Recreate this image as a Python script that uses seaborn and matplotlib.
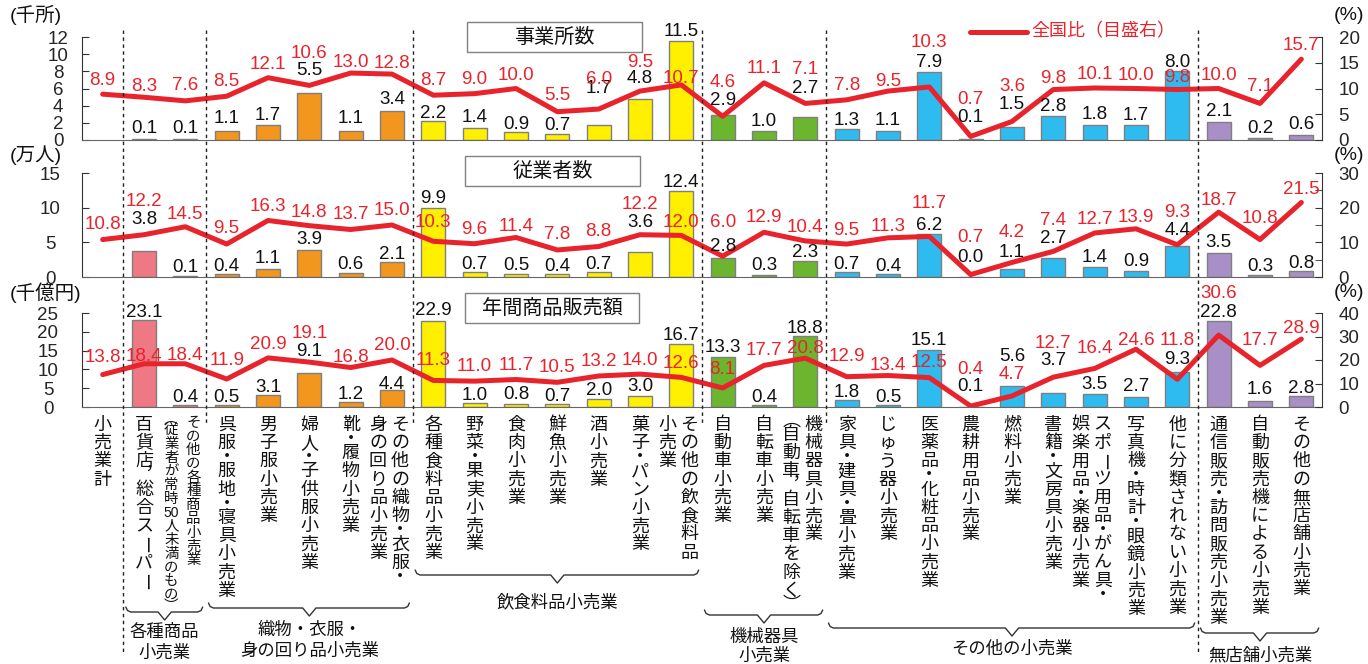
import numpy as np
import pandas as pd
import seaborn as sns
import matplotlib.pyplot as plt
from matplotlib.lines import Line2D
from matplotlib.patches import Rectangle
from matplotlib.transforms import blended_transform_factory

# ------------------------------------------------------------
# data
# ------------------------------------------------------------
# "|" splits a vertical label into two columns (right column first)
categories = [
    "小売業計", "百貨店，総合スーパー",
    "その他の各種商品小売業|（従業者が常時50人未満のもの）",
    "呉服・服地・寝具小売業", "男子服小売業", "婦人・子供服小売業", "靴・履物小売業",
    "その他の織物・衣服・|身の回り品小売業",
    "各種食料品小売業", "野菜・果実小売業", "食肉小売業", "鮮魚小売業", "酒小売業",
    "菓子・パン小売業", "その他の飲食料品|小売業",
    "自動車小売業", "自転車小売業", "機械器具小売業|（自動車，自転車を除く）",
    "家具・建具・畳小売業", "じゅう器小売業", "医薬品・化粧品小売業", "農耕用品小売業",
    "燃料小売業", "書籍・文房具小売業", "スポーツ用品・がん具・|娯楽用品・楽器小売業",
    "写真機・時計・眼鏡小売業", "他に分類されない小売業",
    "通信販売・訪問販売小売業", "自動販売機による小売業", "その他の無店舗小売業",
]
groups = (["total"] + ["dept"] * 2 + ["cloth"] * 5 + ["food"] * 7 + ["mach"] * 3
          + ["other"] * 9 + ["nonstore"] * 3)

# 事業所数 (千所) and 全国比 (%)
est_counts = [np.nan, 0.1, 0.1, 1.1, 1.7, 5.5, 1.1, 3.4, 2.2, 1.4, 0.9, 0.7, 1.7, 4.8, 11.5,
              2.9, 1.0, 2.7, 1.3, 1.1, 7.9, 0.1, 1.5, 2.8, 1.8, 1.7, 8.0, 2.1, 0.2, 0.6]
est_share = [8.9, 8.3, 7.6, 8.5, 12.1, 10.6, 13.0, 12.8, 8.7, 9.0, 10.0, 5.5, 6.0, 9.5, 10.7,
             4.6, 11.1, 7.1, 7.8, 9.5, 10.3, 0.7, 3.6, 9.8, 10.1, 10.0, 9.8, 10.0, 7.1, 15.7]

# 従業者数 (万人)
emp_counts = [np.nan, 3.8, 0.1, 0.4, 1.1, 3.9, 0.6, 2.1, 9.9, 0.7, 0.5, 0.4, 0.7, 3.6, 12.4,
              2.8, 0.3, 2.3, 0.7, 0.4, 6.2, 0.0, 1.1, 2.7, 1.4, 0.9, 4.4, 3.5, 0.3, 0.8]
emp_share = [10.8, 12.2, 14.5, 9.5, 16.3, 14.8, 13.7, 15.0, 10.3, 9.6, 11.4, 7.8, 8.8, 12.2, 12.0,
             6.0, 12.9, 10.4, 9.5, 11.3, 11.7, 0.7, 4.2, 7.4, 12.7, 13.9, 9.3, 18.7, 10.8, 21.5]

# 年間商品販売額 (千億円)
sales = [np.nan, 23.1, 0.4, 0.5, 3.1, 9.1, 1.2, 4.4, 22.9, 1.0, 0.8, 0.7, 2.0, 3.0, 16.7,
         13.3, 0.4, 18.8, 1.8, 0.5, 15.1, 0.1, 5.6, 3.7, 3.5, 2.7, 9.3, 22.8, 1.6, 2.8]
sales_share = [13.8, 18.4, 18.4, 11.9, 20.9, 19.1, 16.8, 20.0, 11.3, 11.0, 11.7, 10.5, 13.2, 14.0, 12.6,
               8.1, 17.7, 20.8, 12.9, 13.4, 12.5, 0.4, 4.7, 12.7, 16.4, 24.6, 11.8, 30.6, 17.7, 28.9]

# bracket groups under the labels: (first, last, label lines)
group_spans = [
    (1, 2, ["各種商品", "小売業"]),
    (3, 7, ["織物・衣服・", "身の回り品小売業"]),
    (8, 14, ["飲食料品小売業"]),
    (15, 17, ["機械器具", "小売業"]),
    (18, 26, ["その他の小売業"]),
    (27, 29, ["無店舗小売業"]),
]

# ------------------------------------------------------------
# layout (pixels)
# ------------------------------------------------------------
# label lift above point / bar top, in px
red_up = [
    [14, 11, 15, 15, 13, 32, 11, 11, 15, 14, 13, 16, 30, 29, 6, 34, 14, 34, 14, 10, 44, 37, 35, 11, 13, 13, 12, 13, 17, 14],
    [15, 33, 12, 16, 14, 13, 15, 15, 19, 14, 11, 15, 15, 30, 13, 34, 15, 13, 14, 11, 33, 37, 30, 31, 13, 11, 32, 12, 21, 13],
    [17, 7, 8, 19, 13, 29, 10, 15, 20, 15, 14, 15, 14, 14, 14, 18, 15, 10, 20, 10, 15, 37, 21, 34, 20, 9, 39, 42, 25, 11],
]
blk_up = [
    [0, 11, 11, 12, 10, 22, 12, 11, 8, 10, 8, 8, 37, 20, 10, 15, 10, 28, 8, 10, 10, 22, 23, 9, 10, 10, 9, 10, 10, 10],
    [0, 31, 9, 8, 11, 10, 8, 8, 10, 8, 8, 8, 8, 30, 9, 11, 9, 9, 8, 8, 9, 20, 17, 20, 10, 9, 16, 10, 8, 8],
    [0, 8, 8, 8, 8, 21, 8, 6, 10, 8, 9, 8, 9, 9, 9, 9, 8, 8, 8, 8, 10, 20, 29, 33, 9, 10, 13, 9, 11, 8],
]
brace_y = [612, 608, 575, 615, 628, 633]
brace_text_y = [[632, 652], [630, 650], [602], [637, 655], [648], [655]]

W, H = 1368, 664
X0, X1 = 82, 1322
PX = (X1 - X0) / 30.0      # px per category
RED = "#E8232B"
palette = {"total": "#ffffff", "dept": "#EE7883", "cloth": "#F2961E", "food": "#FFF000",
           "mach": "#6BB52F", "other": "#2EBBEF", "nonstore": "#A88FC5"}


def fy(y):
    return 1 - y / H


sns.set_style("white")
plt.rcParams["font.family"] = ["Liberation Sans", "Noto Sans CJK JP"]

fig = plt.figure(figsize=(W / 100, H / 100), dpi=100)

panels = [
    dict(top=37, bot=140, bars=est_counts, share=est_share, lmax=12, lstep=2, rmax=20, rstep=5,
         rminor=None, unit="(千所)", title="事業所数", box=(467, 22, 642, 52), lpad=24, uy=15),
    dict(top=173, bot=277, bars=emp_counts, share=emp_share, lmax=15, lstep=5, rmax=30, rstep=10,
         rminor=[5, 15, 25], unit="(万人)", title="従業者数", box=(465, 156, 640, 186), lpad=32, uy=155),
    dict(top=313, bot=407, bars=sales, share=sales_share, lmax=25, lstep=5, rmax=40, rstep=10,
         rminor=None, unit="(千億円)", title="年間商品販売額", box=(465, 293, 639, 323), lpad=34, uy=293),
]

pos = np.arange(len(categories))
axes = []
for k, p in enumerate(panels):
    ax = fig.add_axes([X0 / W, fy(p["bot"]), (X1 - X0) / W, (p["bot"] - p["top"]) / H])
    df = pd.DataFrame({"pos": pos, "value": p["bars"], "group": groups})
    sns.barplot(data=df, x="pos", y="value", hue="group", palette=palette, order=list(pos),
                dodge=False, width=0.58, saturation=1, edgecolor="#7f7f7f", linewidth=1,
                legend=False, ax=ax)
    ax.set_xlim(-0.5, 29.5)
    ax.set_ylim(0, p["lmax"])
    ax.set_xlabel("")
    ax.set_ylabel("")
    ax.set_xticks(np.arange(-0.5, 30, 1))
    ax.set_xticklabels([])
    ax.tick_params(axis="x", direction="in", length=5, color="#555555")
    ax.set_yticks(np.arange(0, p["lmax"] + 0.1, p["lstep"]))
    ax.tick_params(axis="y", direction="in", length=5, pad=p["lpad"] * 0.72, labelsize=13.5,
                   color="#333333")
    plt.setp(ax.get_yticklabels(), ha="center")
    for s in ["top", "right"]:
        ax.spines[s].set_visible(False)
    ax.spines["left"].set_color("#333333")
    ax.spines["bottom"].set_color("#666666")

    axr = ax.twinx()
    sns.lineplot(x=pos, y=p["share"], ax=axr, color=RED, linewidth=3.6, legend=False)
    axr.set_ylim(0, p["rmax"])
    axr.set_ylabel("")
    axr.set_yticks(np.arange(0, p["rmax"] + 0.1, p["rstep"]))
    if p["rminor"]:
        axr.set_yticks(p["rminor"], minor=True)
    axr.tick_params(axis="y", which="both", direction="in", length=5, pad=12, labelsize=13.5,
                    color="#333333")
    for s in ["top", "left", "bottom"]:
        axr.spines[s].set_visible(False)
    axr.spines["right"].set_color("#333333")

    # value labels
    for i in pos:
        v = p["bars"][i]
        if not np.isnan(v):
            axr.annotate(f"{v:.1f}", xy=(i, v), xycoords=ax.transData,
                         xytext=(0, blk_up[k][i] * 0.72), textcoords="offset points",
                         ha="center", va="center", fontsize=13.5, color="#111111")
        s = p["share"][i]
        axr.annotate(f"{s:.1f}", xy=(i, s), xycoords=axr.transData,
                     xytext=(0, red_up[k][i] * 0.72), textcoords="offset points",
                     ha="center", va="center", fontsize=13.5, color=RED)

    # title box and units
    bx0, by0, bx1, by1 = p["box"]
    fig.add_artist(Rectangle((bx0 / W, fy(by1)), (bx1 - bx0) / W, (by1 - by0) / H,
                             transform=fig.transFigure, facecolor="white",
                             edgecolor="#808080", linewidth=1))
    fig.text((bx0 + bx1) / 2 / W, fy((by0 + by1) / 2), p["title"], ha="center", va="center",
             fontsize=14.5, color="#111111")
    fig.text(10 / W, fy(p["uy"]), p["unit"], ha="left", va="center", fontsize=14, color="#111111")
    fig.text(1349 / W, fy(p["uy"]), "(%)", ha="center", va="center", fontsize=14, color="#111111")
    axes.append(ax)

ax_b = axes[-1]
bt = blended_transform_factory(ax_b.transData, fig.transFigure)

# dashed separators
for b in [0.5, 2.5, 7.5, 14.5, 17.5, 26.5]:
    yb = 655 if b in (0.5, 26.5) else 425
    fig.add_artist(Line2D([b, b], [fy(30), fy(yb)], transform=bt, color="#222222",
                          linewidth=1, linestyle=(0, (2.5, 2.5))))

# vertical category labels (vertical forms for brackets and comma)
VFORM = {"（": "︵", "）": "︶", "，": "︐"}
SMALL = set("・，（）")


def cells(text):
    out, i = [], 0
    while i < len(text):
        if text[i].isascii() and text[i].isdigit():
            j = i
            while j < len(text) and text[j].isascii() and text[j].isdigit():
                j += 1
            out.append(text[i:j])
            i = j
        else:
            out.append(text[i])
            i += 1
    return out


def vertical(xc, text, scale):
    y = 416
    fs = 13 * (0.8 if scale < 1 else 1)
    for c in cells(text):
        h = (10 if c in SMALL else 18.3) * scale
        yc = y + h / 2
        kw = dict(ha="center", va="center", color="#111111", transform=bt)
        if c == "ー":
            kw.update(rotation=-90, rotation_mode="anchor")
        size = 10 if c.isdigit() else fs
        fig.text(xc, fy(yc), VFORM.get(c, c), fontsize=size, **kw)
        y += h


for i, name in enumerate(categories):
    cols = name.split("|")
    if len(cols) == 1:
        vertical(i, cols[0], 1.0)
    else:
        scale = 0.75 if i == 2 else 1.0
        vertical(i + 8 / PX, cols[0], scale)
        vertical(i - 14 / PX, cols[1], scale)

# brackets under the labels
for (a, b, lines), yb, tys in zip(group_spans, brace_y, brace_text_y):
    x0, x1 = a - 0.44, b + 0.42
    xm = (a + b) / 2
    xs = [x0, x0 + 0.04, x0 + 0.12, xm - 0.16, xm, xm + 0.16, x1 - 0.12, x1 - 0.04, x1]
    ys = [yb - 5, yb - 1.5, yb, yb, yb + 8, yb, yb, yb - 1.5, yb - 5]
    fig.add_artist(Line2D(xs, [fy(v) for v in ys], transform=bt, color="#333333", linewidth=1))
    for line, ty in zip(lines, tys):
        fig.text(xm, fy(ty), line, ha="center", va="center", fontsize=12.5,
                 color="#111111", transform=bt)

# legend
fig.add_artist(Line2D([970 / W, 1027 / W], [fy(32), fy(32)], transform=fig.transFigure,
                      color=RED, linewidth=3.6))
fig.text(1031 / W, fy(32), "全国比（目盛右）", ha="left", va="center", fontsize=13, color=RED)

fig.savefig("out.png", dpi=100)
